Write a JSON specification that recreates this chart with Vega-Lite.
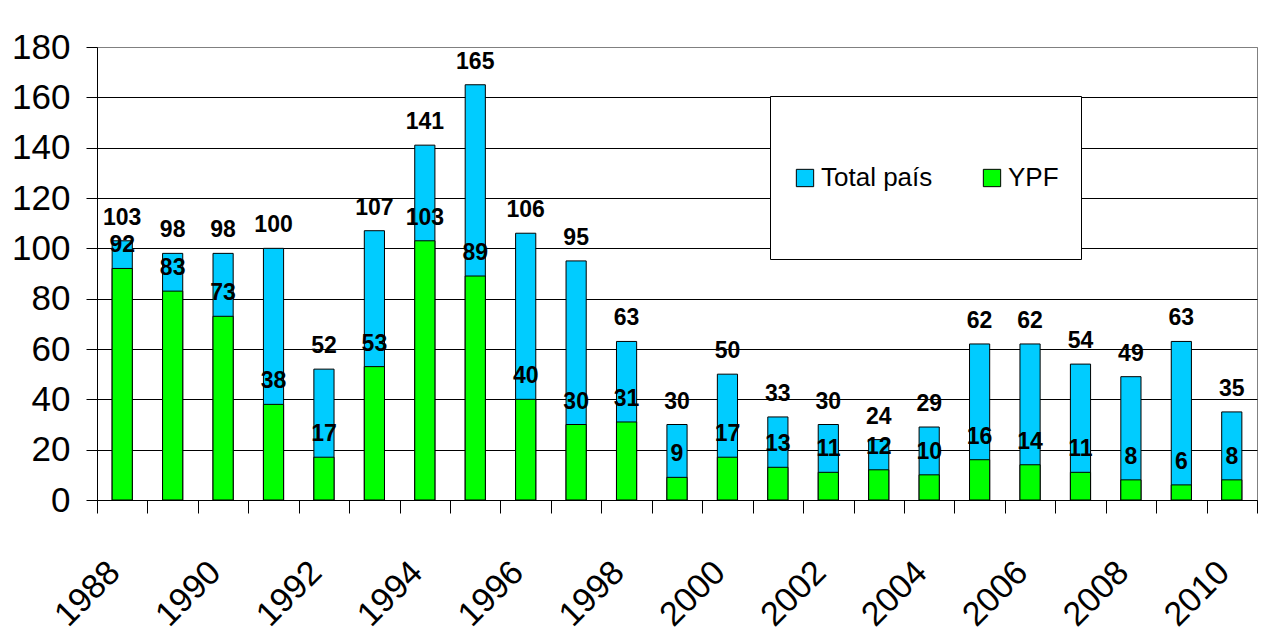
{
  "$schema": "https://vega.github.io/schema/vega-lite/v6.json",
  "width": 1160,
  "height": 453,
  "autosize": {"type": "none"},
  "padding": {"left": 97, "top": 47, "right": 27, "bottom": 140},
  "background": "white",
  "config": {"view": {"stroke": "#808080", "strokeWidth": 1}, "font": "Liberation Sans"},
  "data": {"values": [
    {"year": "1988", "serie": "Total país", "value": 103},
    {"year": "1989", "serie": "Total país", "value": 98},
    {"year": "1990", "serie": "Total país", "value": 98},
    {"year": "1991", "serie": "Total país", "value": 100},
    {"year": "1992", "serie": "Total país", "value": 52},
    {"year": "1993", "serie": "Total país", "value": 107},
    {"year": "1994", "serie": "Total país", "value": 141},
    {"year": "1995", "serie": "Total país", "value": 165},
    {"year": "1996", "serie": "Total país", "value": 106},
    {"year": "1997", "serie": "Total país", "value": 95},
    {"year": "1998", "serie": "Total país", "value": 63},
    {"year": "1999", "serie": "Total país", "value": 30},
    {"year": "2000", "serie": "Total país", "value": 50},
    {"year": "2001", "serie": "Total país", "value": 33},
    {"year": "2002", "serie": "Total país", "value": 30},
    {"year": "2003", "serie": "Total país", "value": 24},
    {"year": "2004", "serie": "Total país", "value": 29},
    {"year": "2005", "serie": "Total país", "value": 62},
    {"year": "2006", "serie": "Total país", "value": 62},
    {"year": "2007", "serie": "Total país", "value": 54},
    {"year": "2008", "serie": "Total país", "value": 49},
    {"year": "2009", "serie": "Total país", "value": 63},
    {"year": "2010", "serie": "Total país", "value": 35},
    {"year": "1988", "serie": "YPF", "value": 92},
    {"year": "1989", "serie": "YPF", "value": 83},
    {"year": "1990", "serie": "YPF", "value": 73},
    {"year": "1991", "serie": "YPF", "value": 38},
    {"year": "1992", "serie": "YPF", "value": 17},
    {"year": "1993", "serie": "YPF", "value": 53},
    {"year": "1994", "serie": "YPF", "value": 103},
    {"year": "1995", "serie": "YPF", "value": 89},
    {"year": "1996", "serie": "YPF", "value": 40},
    {"year": "1997", "serie": "YPF", "value": 30},
    {"year": "1998", "serie": "YPF", "value": 31},
    {"year": "1999", "serie": "YPF", "value": 9},
    {"year": "2000", "serie": "YPF", "value": 17},
    {"year": "2001", "serie": "YPF", "value": 13},
    {"year": "2002", "serie": "YPF", "value": 11},
    {"year": "2003", "serie": "YPF", "value": 12},
    {"year": "2004", "serie": "YPF", "value": 10},
    {"year": "2005", "serie": "YPF", "value": 16},
    {"year": "2006", "serie": "YPF", "value": 14},
    {"year": "2007", "serie": "YPF", "value": 11},
    {"year": "2008", "serie": "YPF", "value": 8},
    {"year": "2009", "serie": "YPF", "value": 6},
    {"year": "2010", "serie": "YPF", "value": 8}
  ]},
  "encoding": {
    "x": {
      "field": "year", "type": "ordinal", "title": null, "sort": null,
      "scale": {"paddingInner": 0, "paddingOuter": 0},
      "axis": {
        "labelAngle": -45, "labelAlign": "right", "labelBaseline": "top",
        "labelFontSize": 34, "labelColor": "#000", "labelPadding": 42, "labelOffset": -20,
        "labelOverlap": false, "labelExpr": "toNumber(datum.value) % 2 == 0 ? datum.value : ''",
        "tickBand": "extent", "tickSize": 13, "tickColor": "#000", "domainColor": "#000", "grid": false
      }
    },
    "y": {
      "field": "value", "type": "quantitative", "title": null, "stack": null,
      "scale": {"domain": [0, 180], "nice": false},
      "axis": {
        "values": [0, 20, 40, 60, 80, 100, 120, 140, 160, 180],
        "labelFontSize": 35, "labelColor": "#000", "labelPadding": 16,
        "tickSize": 11, "tickColor": "#000", "domainColor": "#000",
        "grid": true,
        "gridColor": {"condition": {"test": "datum.value == 180", "value": "#808080"}, "value": "#000"}
      }
    }
  },
  "layer": [
    {
      "mark": {"type": "bar", "stroke": "#000", "strokeWidth": 1, "width": {"band": 0.4}},
      "encoding": {
        "color": {
          "field": "serie", "type": "nominal",
          "scale": {"domain": ["Total país", "YPF"], "range": ["#00CCFF", "#00FF00"]},
          "legend": {
            "title": " ", "titleFontSize": 30, "titlePadding": 17,
            "orient": "none", "legendX": 673, "legendY": 49,
            "direction": "horizontal", "fillColor": "white", "strokeColor": "#000",
            "padding": 22, "symbolType": "square", "symbolSize": 300,
            "symbolStrokeColor": "#000", "symbolStrokeWidth": 1,
            "labelFontSize": 26, "labelColor": "#000", "labelOffset": 3, "columnPadding": 46,
            "labelLimit": 0,
            "labelExpr": "[datum.label, '']",
            "encode": {"labels": {"update": {"lineHeight": {"value": 46}}}}
          }
        }
      }
    },
    {
      "mark": {"type": "text", "dy": -16, "baseline": "alphabetic", "align": "center",
               "fontSize": 23, "fontWeight": "bold", "color": "#000"},
      "encoding": {"text": {"field": "value", "type": "quantitative"}}
    }
  ]
}
